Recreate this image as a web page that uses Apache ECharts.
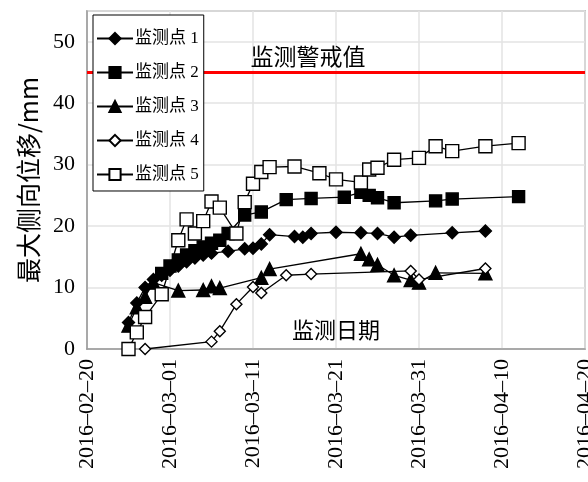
<!DOCTYPE html>
<html>
<head>
<meta charset="utf-8">
<script src="https://cdn.jsdelivr.net/npm/echarts@6/dist/echarts.min.js"></script>
<style>html,body{margin:0;padding:0;background:#fff;}#c{width:588px;height:482px;}</style>
</head>
<body>
<div id="c"></div>
<script>
var startDate = '2016-02-20';
var xTickLabels = ['2016\u201302\u201320','2016\u201303\u201301','2016\u201303\u201311','2016\u201303\u201321','2016\u201303\u201331','2016\u201304\u201310','2016\u201304\u201320'];
var seriesNames = ['监测点 1','监测点 2','监测点 3','监测点 4','监测点 5'];
var warnValue = 45;
var warnLabel = '监测警戒值';
var xAxisName = '监测日期';
var yAxisName = '最大侧向位移/mm';

var dates1 = ['2016-02-25','2016-02-26','2016-02-27','2016-02-28','2016-02-29','2016-03-01','2016-03-02','2016-03-03','2016-03-04','2016-03-05','2016-03-06','2016-03-08','2016-03-10','2016-03-11','2016-03-12','2016-03-13','2016-03-16','2016-03-17','2016-03-18','2016-03-21','2016-03-24','2016-03-26','2016-03-28','2016-03-30','2016-04-04','2016-04-08'];
var vals1 = [4.3,7.5,10,11.3,12,12.8,13.5,14.2,14.8,15.3,15.6,15.9,16.3,16.4,17.1,18.6,18.3,18.2,18.8,19.0,18.9,18.8,18.2,18.5,18.9,19.2];

var dates2 = ['2016-02-29','2016-03-01','2016-03-02','2016-03-03','2016-03-04','2016-03-05','2016-03-06','2016-03-07','2016-03-08','2016-03-10','2016-03-12','2016-03-15','2016-03-18','2016-03-22','2016-03-24','2016-03-25','2016-03-26','2016-03-28','2016-04-02','2016-04-04','2016-04-12'];
var vals2 = [12.3,13.5,14.5,15.3,16.0,16.6,17.2,17.7,18.8,21.8,22.3,24.3,24.5,24.7,25.5,25.0,24.6,23.8,24.1,24.4,24.8];

var dates3 = ['2016-02-25','2016-02-26','2016-02-27','2016-02-28','2016-03-02','2016-03-05','2016-03-06','2016-03-07','2016-03-12','2016-03-13','2016-03-24','2016-03-25','2016-03-26','2016-03-28','2016-03-30','2016-03-31','2016-04-02','2016-04-08'];
var vals3 = [3.8,6.8,8.5,10.8,9.5,9.6,10.2,9.9,11.6,13.0,15.5,14.6,13.7,12.0,11.2,10.8,12.4,12.3];

var dates4 = ['2016-02-27','2016-03-06','2016-03-07','2016-03-09','2016-03-11','2016-03-12','2016-03-15','2016-03-18','2016-03-30','2016-03-31','2016-04-08'];
var vals4 = [0,1.2,2.9,7.3,10.1,9.1,12.0,12.2,12.7,11.3,13.1];

var dates5 = ['2016-02-25','2016-02-26','2016-02-27','2016-02-29','2016-03-02','2016-03-03','2016-03-04','2016-03-05','2016-03-06','2016-03-07','2016-03-09','2016-03-10','2016-03-11','2016-03-12','2016-03-13','2016-03-16','2016-03-19','2016-03-21','2016-03-24','2016-03-25','2016-03-26','2016-03-28','2016-03-31','2016-04-02','2016-04-04','2016-04-08','2016-04-12'];
var vals5 = [0,2.7,5.2,8.9,17.7,21.1,18.8,20.8,24.0,23.0,18.8,23.9,26.9,28.8,29.6,29.7,28.6,27.6,27.1,29.2,29.5,30.8,31.1,33.0,32.2,33.0,33.5];

var DAY = 86400000;
function dayOffset(s){ return (Date.parse(s) - Date.parse(startDate)) / DAY; }
function pairs(ds, vs){ return ds.map(function(d,i){ return [dayOffset(d), vs[i]]; }); }

var serif = "'Liberation Serif','Times New Roman','Noto Sans CJK SC',serif";
var cjk = "'Noto Sans CJK SC','Liberation Serif',sans-serif";

var symbols = ['diamond','rect','triangle','diamond','rect'];
var fills = ['#000','#000','#000','#fff','#fff'];
var sizes = [12,12,13,11,13];
var allDates = [dates1,dates2,dates3,dates4,dates5];
var allVals = [vals1,vals2,vals3,vals4,vals5];

var series = seriesNames.map(function(n,i){
  return {
    name: n, type: 'line', data: pairs(allDates[i], allVals[i]),
    symbol: symbols[i], symbolSize: sizes[i], showAllSymbol: true,
    lineStyle: {color:'#000', width:1.3},
    itemStyle: {color: fills[i], borderColor:'#000', borderWidth: 1.4},
    emphasis: {disabled:true}, animation:false, z: 3 + i
  };
});
series[0].markLine = {
  silent: true, symbol: ['none','none'],
  lineStyle: {color:'#ff0000', width:3, type:'solid'},
  label: {show:true, formatter: warnLabel, position:'insideMiddleTop', color:'#000', fontSize:23, fontFamily: cjk, padding:[0,56,0,0]},
  data: [{yAxis: warnValue}]
};

var chart = echarts.init(document.getElementById('c'), null, {renderer:'canvas'});
chart.setOption({
  backgroundColor:'#fff',
  animation:false,
  grid: {left:87, right:3, top:11, bottom:133, show:true, borderColor:'#9a9a9a', borderWidth:1.5, outerBoundsMode:'none', containLabel:false},
  legend: {
    orient:'vertical', left:93, top:15, z: 50,
    backgroundColor:'#fff', borderColor:'#000', borderWidth:1, borderRadius:0,
    padding:[15,5,8,3], itemGap:17, itemWidth:36, itemHeight:14,
    textStyle:{fontFamily: serif, fontSize:17, color:'#000', padding:[0,0,0,-3]},
    data: seriesNames
  },
  xAxis: {
    type:'value', min:0, max:60, interval:10,
    name: xAxisName, nameLocation:'middle', nameGap:-30, nameMoveOverlap:false,
    nameTextStyle:{fontFamily: cjk, fontSize:22, color:'#000'},
    axisLine:{show:true, lineStyle:{color:'#9a9a9a', width:1.5}},
    axisTick:{show:false},
    splitLine:{show:true, lineStyle:{color:'#e3e3e3', width:1.5}},
    axisLabel:{rotate:90, fontFamily: serif, fontSize:22, color:'#000', margin:10,
      formatter:function(v){ return xTickLabels[Math.round(v/10)]; }}
  },
  yAxis: {
    type:'value', min:0, max:55, interval:10,
    name: yAxisName, nameLocation:'middle', nameGap:46, nameRotate:90, nameMoveOverlap:false,
    nameTextStyle:{fontFamily: cjk, fontSize:25, color:'#000'},
    axisLine:{show:true, lineStyle:{color:'#9a9a9a', width:1.5}},
    axisTick:{show:false},
    splitLine:{show:true, lineStyle:{color:'#e3e3e3', width:1.5}},
    axisLabel:{fontFamily: serif, fontSize:22, color:'#000', margin:12, showMaxLabel:false,
      formatter:function(v){ return v > 50 ? '' : String(v); }}
  },
  series: series
});
</script>
</body>
</html>
